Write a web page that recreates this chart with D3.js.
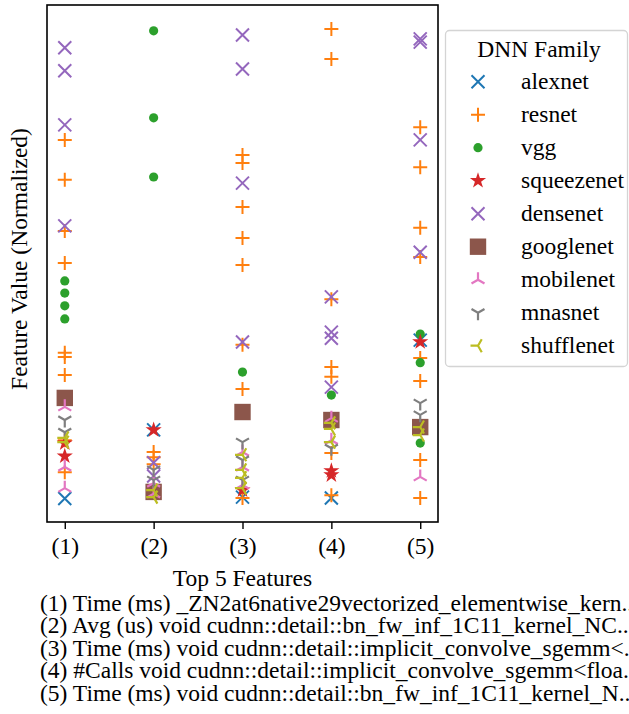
<!DOCTYPE html>
<html>
<head>
<meta charset="utf-8">
<script src="https://cdn.jsdelivr.net/npm/d3@7"></script>
<style>
  html, body { margin: 0; padding: 0; background: #fff; }
  svg { display: block; }
  text { font-family: "Liberation Serif", "Times New Roman", serif; fill: #000; }
</style>
</head>
<body>
<svg id="chart" width="629" height="714"></svg>
<script>
// ---------------- DATA ----------------
const featureLabels = ["(1)", "(2)", "(3)", "(4)", "(5)"];
const familyNames = ["alexnet", "resnet", "vgg", "squeezenet", "densenet", "googlenet", "mobilenet", "mnasnet", "shufflenet"];
const familyColors = ["#1f77b4", "#ff7f0e", "#2ca02c", "#d62728", "#9467bd", "#8c564b", "#e377c2", "#7f7f7f", "#bcbd22"];
const familyMarkers = ["x", "plus", "circle", "star", "x", "square", "tri_up", "tri_down", "tri_left"];

// [feature index, normalized value]
const alexnet = [[1, 0.000], [2, 0.146], [3, 0.003], [4, 0.001], [5, 0.337]];
const resnet = [
  [1, 0.763], [1, 0.678], [1, 0.569], [1, 0.501], [1, 0.310], [1, 0.301], [1, 0.263], [1, 0.124], [1, 0.056],
  [2, 0.099], [2, 0.088], [2, 0.073],
  [3, 0.731], [3, 0.714], [3, 0.620], [3, 0.554], [3, 0.497], [3, 0.327], [3, 0.233], [3, 0.001],
  [4, 0.999], [4, 0.935], [4, 0.424], [4, 0.280], [4, 0.259], [4, 0.097], [4, 0.007],
  [5, 0.790], [5, 0.705], [5, 0.576], [5, 0.514], [5, 0.299], [5, 0.250], [5, 0.082], [5, 0.001]
];
const vgg = [
  [1, 0.463], [1, 0.437], [1, 0.410], [1, 0.382],
  [2, 0.995], [2, 0.810], [2, 0.684],
  [3, 0.269],
  [4, 0.220],
  [5, 0.350], [5, 0.289], [5, 0.118]
];
const squeezenet = [[1, 0.118], [1, 0.090], [2, 0.146], [3, 0.018], [4, 0.059], [4, 0.050], [5, 0.333]];
const densenet = [
  [1, 0.959], [1, 0.910], [1, 0.795], [1, 0.580],
  [2, 0.076], [2, 0.048],
  [3, 0.986], [3, 0.914], [3, 0.671], [3, 0.333],
  [4, 0.429], [4, 0.354], [4, 0.341], [4, 0.237],
  [5, 0.978], [5, 0.971], [5, 0.763], [5, 0.524]
];
const googlenet = [[1, 0.214], [2, 0.014], [3, 0.184], [4, 0.167], [5, 0.152]];
const mobilenet = [
  [1, 0.195], [1, 0.067], [1, 0.022],
  [2, 0.033], [2, 0.010],
  [3, 0.099], [3, 0.067], [3, 0.029],
  [4, 0.171], [4, 0.124],
  [5, 0.046]
];
const mnasnet = [
  [1, 0.167], [1, 0.141],
  [2, 0.061], [2, 0.039],
  [3, 0.120], [3, 0.082], [3, 0.039],
  [4, 0.107],
  [5, 0.203], [5, 0.178]
];
const shufflenet = [
  [1, 0.129], [1, 0.120],
  [2, 0.018], [2, 0.003],
  [3, 0.093], [3, 0.061], [3, 0.044], [3, 0.022],
  [4, 0.161], [4, 0.148], [4, 0.120],
  [5, 0.152], [5, 0.135]
];
const familyData = [alexnet, resnet, vgg, squeezenet, densenet, googlenet, mobilenet, mnasnet, shufflenet];

const xAxisTitle = "Top 5 Features";
const yAxisTitle = "Feature Value (Normalized)";
const legendTitle = "DNN Family";
const footnoteLines = [
  "(1) Time (ms) _ZN2at6native29vectorized_elementwise_kern..",
  "(2) Avg (us) void cudnn::detail::bn_fw_inf_1C11_kernel_NC..",
  "(3) Time (ms) void cudnn::detail::implicit_convolve_sgemm<..",
  "(4) #Calls void cudnn::detail::implicit_convolve_sgemm<floa..",
  "(5) Time (ms) void cudnn::detail::bn_fw_inf_1C11_kernel_N.."
];

// ---------------- LAYOUT ----------------
const svg = d3.select("#chart");
const plot = { left: 47, right: 438, top: 5, bottom: 522 };
const FS = 23.5;

const x = d3.scaleLinear().domain([0.8, 5.2]).range([plot.left, plot.right]);
const y = d3.scaleLinear().domain([-0.05, 1.05]).range([plot.bottom, plot.top]);

// marker path generator (centered at 0,0)
function markerPath(type) {
  const p = d3.path();
  if (type === "x") {
    const r = 6.5;
    p.moveTo(-r, -r); p.lineTo(r, r); p.moveTo(-r, r); p.lineTo(r, -r);
  } else if (type === "plus") {
    const r = 7;
    p.moveTo(-r, 0); p.lineTo(r, 0); p.moveTo(0, -r); p.lineTo(0, r);
  } else if (type === "circle") {
    const r = 4.6;
    p.moveTo(r, 0); p.arc(0, 0, r, 0, 2 * Math.PI);
  } else if (type === "square") {
    const r = 8.2;
    p.rect(-r, -r, 2 * r, 2 * r);
  } else if (type === "star") {
    const R = 8.5, ri = R * 0.381966;
    for (let i = 0; i < 10; i++) {
      const rad = i % 2 === 0 ? R : ri;
      const a = -Math.PI / 2 + i * Math.PI / 5;
      const px = rad * Math.cos(a), py = rad * Math.sin(a);
      if (i === 0) p.moveTo(px, py); else p.lineTo(px, py);
    }
    p.closePath();
  } else {
    const r = 7.5;
    let angles;
    if (type === "tri_up") angles = [-90, 30, 150];       // stem up, legs down
    else if (type === "tri_down") angles = [90, -30, -150]; // stem down, arms up
    else angles = [180, -60, 60];                            // tri_left
    angles.forEach(a => {
      const t = a * Math.PI / 180;
      p.moveTo(0, 0); p.lineTo(r * Math.cos(t), r * Math.sin(t));
    });
  }
  return p.toString();
}
function isFilled(type) { return type === "circle" || type === "square" || type === "star"; }
function styleMarker(sel, type, color) {
  if (isFilled(type)) sel.attr("fill", color).attr("stroke", "none");
  else sel.attr("fill", "none").attr("stroke", color).attr("stroke-width", type === "plus" || type === "x" ? 2 : 2.2);
}

// ---------------- MARKS ----------------
const gMarks = svg.append("g");
familyData.forEach((data, i) => {
  const type = familyMarkers[i];
  const color = familyColors[i];
  const sel = gMarks.append("g").attr("class", "series-" + familyNames[i])
    .selectAll("path").data(data).join("path")
    .attr("d", markerPath(type))
    .attr("transform", d => `translate(${x(d[0])},${y(d[1])})`);
  styleMarker(sel, type, color);
});

// frame
svg.append("rect")
  .attr("x", plot.left).attr("y", plot.top)
  .attr("width", plot.right - plot.left).attr("height", plot.bottom - plot.top)
  .attr("fill", "none").attr("stroke", "#000").attr("stroke-width", 1.6);

// x axis
const xAxis = d3.axisBottom(x)
  .tickValues([1, 2, 3, 4, 5])
  .tickFormat((d, i) => featureLabels[i])
  .tickSize(7).tickPadding(4);
const gx = svg.append("g").attr("transform", `translate(0,${plot.bottom})`).call(xAxis);
gx.select(".domain").remove();
gx.selectAll(".tick line").attr("stroke", "#000").attr("stroke-width", 1.4);
gx.selectAll(".tick text")
  .attr("font-size", FS).attr("font-family", "Liberation Serif, Times New Roman, serif")
  .attr("fill", "#000").attr("dy", null).attr("y", 32);

svg.append("text")
  .attr("x", (plot.left + plot.right) / 2).attr("y", 586)
  .attr("text-anchor", "middle").attr("font-size", FS)
  .text(xAxisTitle);

svg.append("text")
  .attr("transform", `translate(27,259) rotate(-90)`)
  .attr("text-anchor", "middle").attr("font-size", FS)
  .text(yAxisTitle);

// legend
const lg = svg.append("g");
lg.append("rect")
  .attr("x", 445.5).attr("y", 30.5).attr("width", 182).attr("height", 336)
  .attr("rx", 4).attr("fill", "#fff").attr("fill-opacity", 0.8)
  .attr("stroke", "#d4d4d4").attr("stroke-width", 1.3);
lg.append("text").attr("x", 539).attr("y", 57).attr("text-anchor", "middle")
  .attr("font-size", FS).text(legendTitle);
familyNames.forEach((name, i) => {
  const cy = 81.7 + 33 * i;
  const m = lg.append("path").attr("d", markerPath(familyMarkers[i]))
    .attr("transform", `translate(478,${cy})`);
  styleMarker(m, familyMarkers[i], familyColors[i]);
  lg.append("text").attr("x", 521).attr("y", cy + 7.5).attr("font-size", FS).text(name);
});

// footnote
const fn = svg.append("g");
footnoteLines.forEach((line, i) => {
  fn.append("text").attr("x", 40).attr("y", 610.5 + 22.6 * i)
    .attr("font-size", FS).text(line);
});
</script>
</body>
</html>
